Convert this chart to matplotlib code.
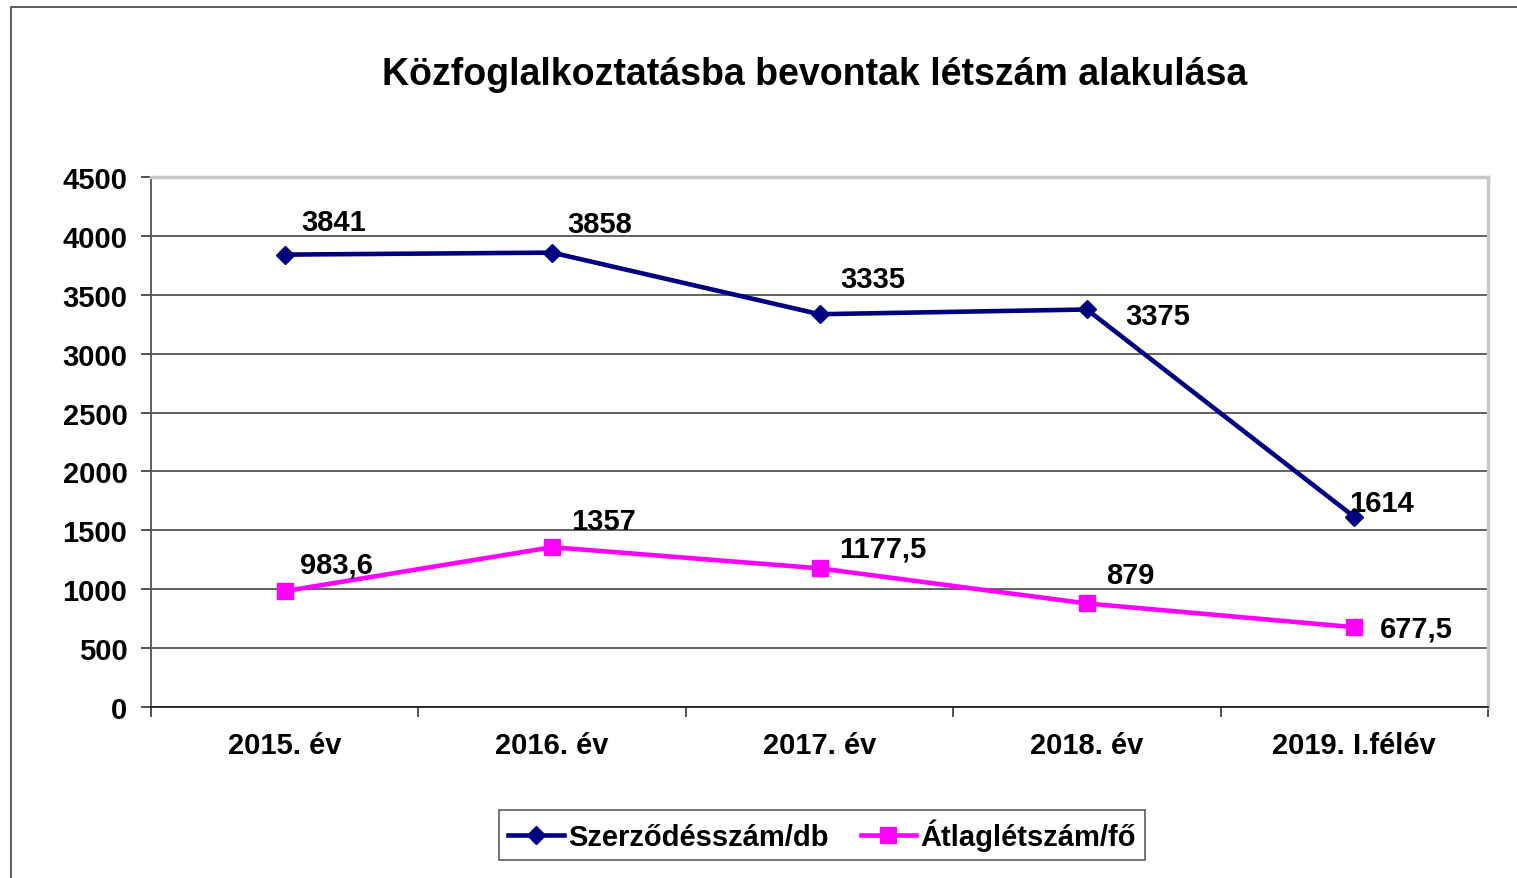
import matplotlib
matplotlib.use("Agg")
import matplotlib.pyplot as plt
from matplotlib.patches import Rectangle

plt.rcParams['font.family'] = ['Liberation Sans', 'DejaVu Sans']
plt.rcParams['font.weight'] = 'bold'

# data
categories = ['2015. év', '2016. év', '2017. év', '2018. év', '2019. I.félév']
szerzodes = [3841, 3858, 3335, 3375, 1614]
atlag = [983.6, 1357, 1177.5, 879, 677.5]
szerzodes_labels = ['3841', '3858', '3335', '3375', '1614']
atlag_labels = ['983,6', '1357', '1177,5', '879', '677,5']

# label offsets in pixels (dx, dy) from the marker
off1 = [(49, 33), (48, 29), (53, 35), (71, -7), (27, 14)]
off2 = [(52, 27), (51, 26), (63, 20), (43, 28), (62, -1)]

FS = 21

fig = plt.figure(figsize=(15.17, 8.79), dpi=100)
ax = fig.add_axes([151/1517, 1-708/879, (1488-151)/1517, (708-178)/879])

x = list(range(len(categories)))
l1, = ax.plot(x, szerzodes, color='#000080', lw=3.3, marker='D', ms=9,
              label='Szerződésszám/db', zorder=3)
l2, = ax.plot(x, atlag, color='#FF00FF', lw=3.3, marker='s', ms=11,
              label='Átlaglétszám/fő', zorder=3)

for xi, v, t, o in zip(x, szerzodes, szerzodes_labels, off1):
    ax.annotate(t, (xi, v), xytext=o, textcoords='offset pixels',
                ha='center', va='center', fontsize=FS, fontweight='bold')
for xi, v, t, o in zip(x, atlag, atlag_labels, off2):
    ax.annotate(t, (xi, v), xytext=o, textcoords='offset pixels',
                ha='center', va='center', fontsize=FS, fontweight='bold')

ax.set_xlim(-0.5, len(categories) - 0.5)
ax.set_ylim(0, 4500)
ax.set_yticks(range(0, 4501, 500))
ax.set_xticks(x)
ax.set_xticklabels(categories)
ax.set_xticks([i - 0.5 for i in range(len(categories) + 1)], minor=True)
ax.tick_params(axis='x', which='major', length=0, pad=17, labelsize=FS)
ax.tick_params(axis='x', which='minor', length=7, width=1.2, direction='out', color='#333333')
ax.tick_params(axis='y', length=7, width=1.2, direction='out', color='#333333',
               labelsize=FS, pad=10)
for lab in ax.get_xticklabels() + ax.get_yticklabels():
    lab.set_fontweight('bold')

ax.grid(axis='y', color='#555555', lw=1.3, zorder=0)
ax.set_axisbelow(True)
ax.spines['left'].set_color('#555555')
ax.spines['left'].set_linewidth(1.3)
ax.spines['bottom'].set_color('#222222')
ax.spines['bottom'].set_linewidth(1.3)
ax.spines['top'].set_color('#c8c8c8')
ax.spines['top'].set_linewidth(2.5)
ax.spines['right'].set_color('#c8c8c8')
ax.spines['right'].set_linewidth(2.5)

fig.text(815/1517, 1-75/879, 'Közfoglalkoztatásba bevontak létszám alakulása',
         ha='center', va='center', fontsize=27, fontweight='bold')

leg = fig.legend(handles=[l1, l2], loc='center', bbox_to_anchor=(822/1517, 1-836/879),
                 ncol=2, fontsize=FS, frameon=True, fancybox=False, handlelength=1.9,
                 handletextpad=0.15, columnspacing=1.1, borderpad=0.3)
leg.get_frame().set_edgecolor('#333333')
leg.get_frame().set_linewidth(1.2)
for t in leg.get_texts():
    t.set_fontweight('bold')

# outer chart border
fig.patches.append(Rectangle((11/1517, -0.05), 1.1, 1 - 8/879 + 0.05,
                             transform=fig.transFigure, fill=False,
                             edgecolor='#444444', lw=1.2))

fig.savefig('out.png', dpi=100)
